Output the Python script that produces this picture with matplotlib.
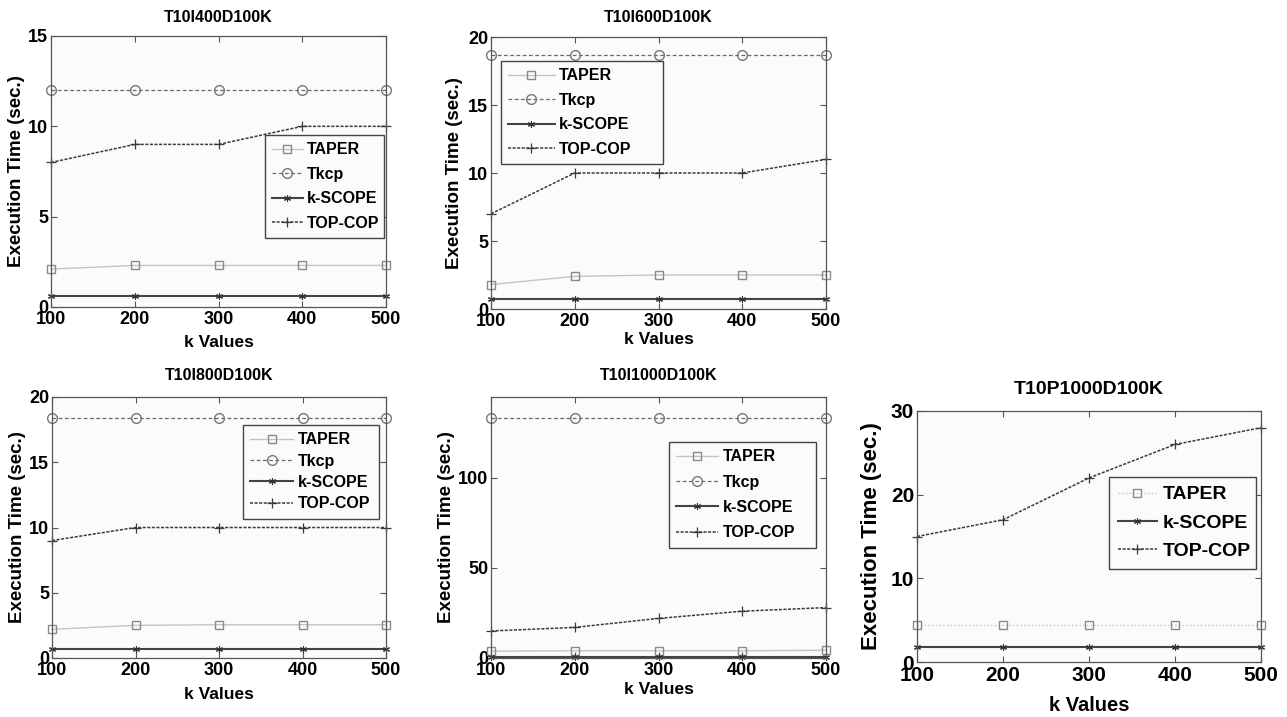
import numpy as np
import matplotlib
matplotlib.use("Agg")
import matplotlib.pyplot as plt

# --- data ---
k_values = [100, 200, 300, 400, 500]

titles = ["T10I400D100K", "T10I600D100K", "T10I800D100K", "T10I1000D100K", "T10P1000D100K"]

taper = [[2.1, 2.3, 2.3, 2.3, 2.3],
         [1.8, 2.4, 2.5, 2.5, 2.5],
         [2.2, 2.5, 2.55, 2.55, 2.55],
         [3.8, 4.0, 4.0, 4.0, 4.3],
         [4.4, 4.4, 4.4, 4.4, 4.4]]
tkcp = [[12, 12, 12, 12, 12],
        [18.7, 18.7, 18.7, 18.7, 18.7],
        [18.4, 18.4, 18.4, 18.4, 18.4],
        [133.5, 133.5, 133.5, 133.5, 133.5],
        None]
kscope = [[0.6, 0.6, 0.6, 0.6, 0.6],
          [0.7, 0.7, 0.7, 0.7, 0.7],
          [0.7, 0.7, 0.7, 0.7, 0.7],
          [0.8, 0.8, 0.8, 0.8, 0.8],
          [1.8, 1.8, 1.8, 1.8, 1.8]]
topcop = [[8, 9, 9, 10, 10],
          [7, 10, 10, 10, 11],
          [9, 10, 10, 10, 10],
          [15, 17, 22, 26, 28],
          [15, 17, 22, 26, 28]]

y_max = [15, 20, 20, 145, 30]
y_ticks = [[0, 5, 10, 15], [0, 5, 10, 15, 20], [0, 5, 10, 15, 20], [0, 50, 100], [0, 10, 20, 30]]

# --- layout (pixels of the 1287x717 picture) ---
W, H = 1287, 717
boxes = [(51, 36, 386, 307), (491, 37, 826, 309), (52, 397, 386, 658),
         (491, 397, 826, 658), (917, 411, 1261, 662)]
legend_box = [(265, 135, 384), (501, 61, 663), (243, 425, 379), (669, 442, 816), (1109, 477, 1256)]
handle_len = [1.9, 2.9, 2.7, 2.6, 2.0]
label_sp = [0.6, 0.6, 0.4, 0.65, 0.55]
ylab_x = [-0.078, -0.084, -0.078, -0.107, -0.102]
xlab_y = [-0.105, -0.085, -0.11, -0.092, -0.135]
title_pad = [10, 11, 12, 12, 12]

plt.rcParams['font.family'] = ['Liberation Sans', 'DejaVu Sans']
plt.rcParams['font.weight'] = 'bold'

fig = plt.figure(figsize=(W / 100, H / 100), dpi=100)
fig.patch.set_facecolor('white')

for i in range(5):
    x0, y0, x1, y1 = boxes[i]
    ax = fig.add_axes([x0 / W, 1 - y1 / H, (x1 - x0) / W, (y1 - y0) / H])
    ax.set_facecolor('#fbfbfb')
    big = (i == 4)

    ax.plot(k_values, taper[i], color='#c4c4c4', lw=1.0, ls=':' if big else '-',
            marker='s', ms=6, mfc='none', mec='#8a8a8a', mew=1.0, label='TAPER', clip_on=False)
    if tkcp[i] is not None:
        ax.plot(k_values, tkcp[i], color='#6a6a6a', lw=0.9, ls=(0, (3, 2)),
                marker='o', ms=7, mfc='none', mec='#777777', mew=1.0, label='Tkcp', clip_on=False)
    ax.plot(k_values, kscope[i], color='#444444', lw=1.5, ls='-',
            marker=(6, 2, 0), ms=5, mec='#333333', mew=0.8, label='k-SCOPE', clip_on=False)
    ax.plot(k_values, topcop[i], color='#3a3a3a', lw=1.1, ls=(0, (2, 1)),
            marker='+', ms=7, mec='#3a3a3a', mew=0.9, label='TOP-COP', clip_on=False)

    ax.set_xlim(100, 500)
    ax.set_ylim(0, y_max[i])
    ax.set_xticks(k_values)
    ax.set_yticks(y_ticks[i])

    ax.tick_params(direction='in', top=True, right=True, length=4, width=0.8,
                   color='#555555', pad=3, labelsize=15 if big else 13)
    ax.tick_params(axis='y', pad=2)
    for sp in ax.spines.values():
        sp.set_color('#555555')
        sp.set_linewidth(0.9)

    ax.set_title(titles[i], fontsize=14 if big else 11.5, fontweight='bold', pad=title_pad[i])
    ax.set_xlabel('k Values', fontsize=14.5 if big else 12.5, fontweight='bold')
    ax.set_ylabel('Execution Time (sec.)', fontsize=16 if big else 13.5, fontweight='bold')
    ax.xaxis.set_label_coords(0.5, xlab_y[i])
    ax.xaxis.label.set_va('top')
    ax.yaxis.set_label_coords(ylab_x[i], 0.5)

    lx, ly, rx = legend_box[i]
    leg = ax.legend(loc='upper left',
                    bbox_to_anchor=(lx / W, 1 - ly / H - 0.2, (rx - lx) / W, 0.2),
                    bbox_transform=fig.transFigure, mode='expand', borderaxespad=0,
                    fancybox=False, framealpha=1, edgecolor='#444444',
                    facecolor='#fbfbfb', handlelength=handle_len[i], handletextpad=0.3,
                    labelspacing=label_sp[i], borderpad=0.45,
                    prop={'weight': 'bold', 'size': 14 if big else 11.5})
    leg.get_frame().set_linewidth(1.0)

fig.savefig('out.png', dpi=100)
